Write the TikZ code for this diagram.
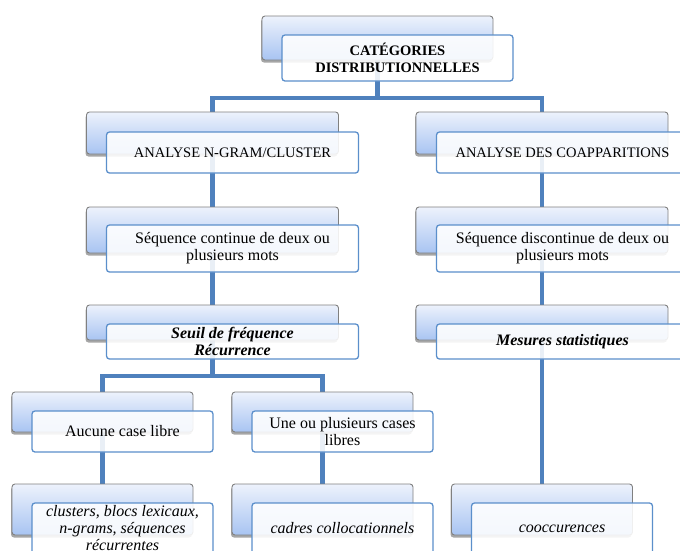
\documentclass[tikz,border=0pt]{standalone}
\usepackage{fontspec}
\setmainfont{Liberation Serif}
\usetikzlibrary{shadows,calc}
\pgfdeclarelayer{background}
\pgfsetlayers{background,main}
\definecolor{linkblue}{HTML}{4F81BD}
\definecolor{frameblue}{HTML}{5B8FCB}
\definecolor{paletop}{HTML}{EDF2FC}
\definecolor{palebot}{HTML}{A8C4F2}

\tikzset{
  backbox/.style={rectangle, rounded corners=3pt, draw=black!50, line width=0.9pt,
    top color=paletop, bottom color=palebot, inner sep=0pt,
    drop shadow={shadow xshift=-1pt, shadow yshift=-2.5pt, opacity=0.35, fill=black}},
  frontbox/.style={rectangle, rounded corners=3pt, draw=frameblue, line width=1.3pt,
    fill=white, fill opacity=0.88, text opacity=1, inner xsep=2pt, inner ysep=1pt,
    align=center, font=\fontsize{16}{17}\selectfont},
  capsfont/.style={font=\fontsize{14.5}{16}\selectfont},
  link/.style={draw=linkblue, line width=4.8pt},
  widebox/.style={minimum width=252pt},
  smallbox/.style={minimum width=181pt},
}

\begin{document}
\begin{tikzpicture}[x=1pt,y=-1pt]
\useasboundingbox (0,0) rectangle (680,550);

% title
\node[backbox, minimum width=231pt, minimum height=44pt] (b0) at (377.5,38) {};
\node[frontbox, minimum width=231pt, minimum height=46pt,
      font=\fontsize{14.5}{16.5}\selectfont\bfseries] (f0) at (397.5,58)
      {CATÉGORIES\\DISTRIBUTIONNELLES};

% second level
\node[backbox, widebox, minimum height=42pt] (b1) at (212.5,133) {};
\node[frontbox, widebox, minimum height=41pt, capsfont] (f1) at (232.5,152.5)
      {ANALYSE N-GRAM/CLUSTER};
\node[backbox, widebox, minimum height=42pt] (b2) at (542,133) {};
\node[frontbox, widebox, minimum height=41pt, capsfont] (f2) at (562.5,152.5)
      {ANALYSE DES COAPPARITIONS};

% third level
\node[backbox, widebox, minimum height=46pt] (b3) at (212.5,230) {};
\node[frontbox, widebox, minimum height=47pt] (f3) at (232.5,248.5)
      {Séquence continue de deux ou\\plusieurs mots};
\node[backbox, widebox, minimum height=46pt] (b4) at (542,230) {};
\node[frontbox, widebox, minimum height=47pt] (f4) at (562.5,248.5)
      {Séquence discontinue de deux ou\\plusieurs mots};

% fourth level
\node[backbox, widebox, minimum height=35pt] (b5) at (212.5,322.5) {};
\node[frontbox, widebox, minimum height=35pt, inner ysep=0pt,
      font=\fontsize{16}{17}\selectfont\bfseries\itshape] (f5) at (232.5,341.5)
      {Seuil de fréquence\\Récurrence};
\node[backbox, widebox, minimum height=35pt] (b6) at (542,322.5) {};
\node[frontbox, widebox, minimum height=35pt,
      font=\fontsize{16}{17}\selectfont\bfseries\itshape] (f6) at (562.5,341.5)
      {Mesures statistiques};

% fifth level
\node[backbox, smallbox, minimum height=40pt] (b7) at (102.5,412) {};
\node[frontbox, smallbox, minimum height=41pt] (f7) at (122.5,431.5)
      {Aucune case libre};
\node[backbox, smallbox, minimum height=40pt] (b8) at (322.5,412) {};
\node[frontbox, smallbox, minimum height=41pt] (f8) at (342.5,431.5)
      {Une ou plusieurs cases\\libres};

% sixth level
\node[backbox, smallbox, minimum height=51pt] (b9) at (102.5,509.5) {};
\node[frontbox, smallbox, minimum height=51pt,
      font=\fontsize{16}{17}\selectfont\itshape] (f9) at (122.5,528.5)
      {clusters, blocs lexicaux,\\n-grams, séquences\\récurrentes};
\node[backbox, smallbox, minimum height=51pt] (b10) at (322.5,509.5) {};
\node[frontbox, smallbox, minimum height=51pt,
      font=\fontsize{16}{17}\selectfont\itshape] (f10) at (342.5,528.5)
      {cadres collocationnels};
\node[backbox, smallbox, minimum height=51pt] (b11) at (542,509.5) {};
\node[frontbox, smallbox, minimum height=51pt,
      font=\fontsize{16}{17}\selectfont\itshape] (f11) at (562,528.5)
      {cooccurences};

% connectors, behind all boxes
\coordinate (j0) at (377.5,98);
\coordinate (j1) at (212.5,376);
\begin{pgfonlayer}{background}
  \draw[link] (b0.center) -- (j0);
  \draw[link] (b1.center) |- (j0) -| (b2.center);
  \draw[link] (b1.center) -- (b3.center) -- (b5.center) -- (j1);
  \draw[link] (b7.center) |- (j1) -| (b8.center);
  \draw[link] (b7.center) -- (b9.center);
  \draw[link] (b8.center) -- (b10.center);
  \draw[link] (b2.center) -- (b4.center) -- (b6.center) -- (b11.center);
\end{pgfonlayer}
\end{tikzpicture}
\end{document}
